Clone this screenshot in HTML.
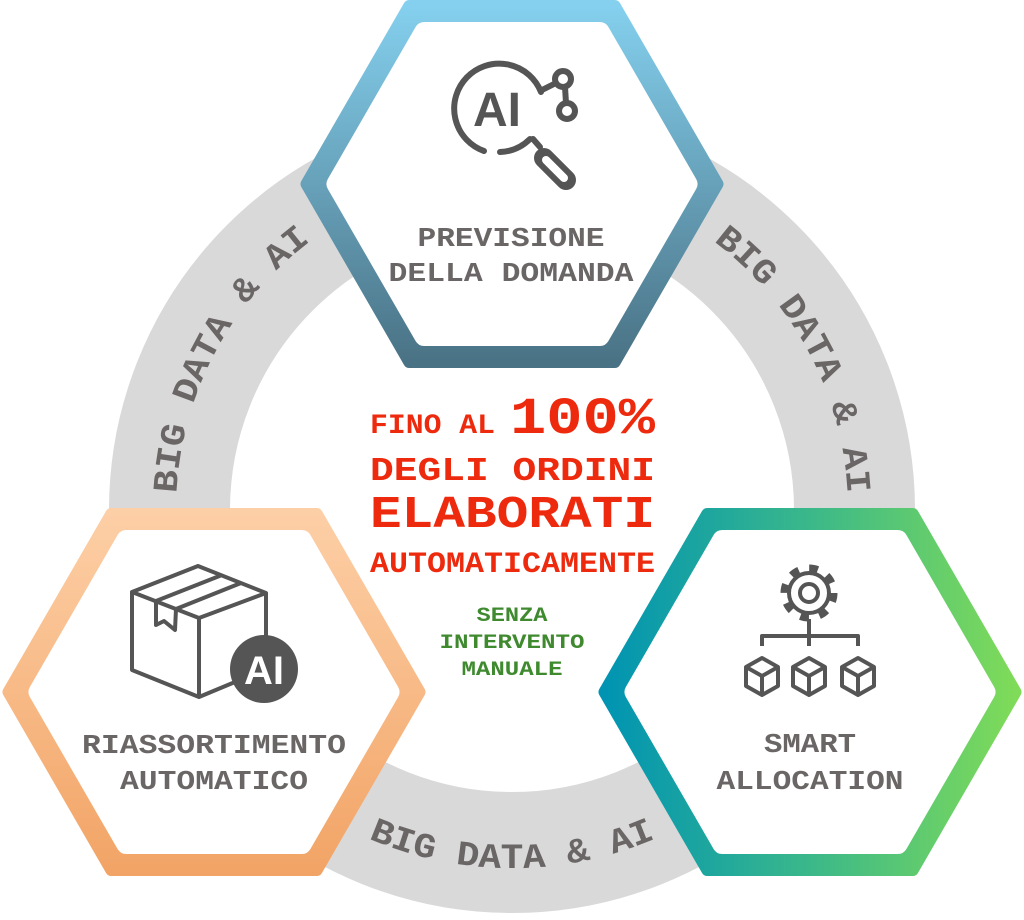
<!DOCTYPE html>
<html><head><meta charset="utf-8"><style>
html,body{margin:0;padding:0;background:#fff;}
svg{display:block;}
text{font-family:"Liberation Mono",monospace;font-weight:bold;}
</style></head><body>
<svg width="1024" height="920" viewBox="0 0 1024 920" xmlns="http://www.w3.org/2000/svg">
<defs>
<linearGradient id="gT" x1="0" y1="0" x2="0" y2="1"><stop offset="0" stop-color="#84d0ee"/><stop offset="1" stop-color="#4a7285"/></linearGradient>
<linearGradient id="gL" x1="0" y1="0" x2="0" y2="1"><stop offset="0" stop-color="#fdcfa6"/><stop offset="1" stop-color="#f2a466"/></linearGradient>
<linearGradient id="gR" x1="0" y1="0" x2="1" y2="0"><stop offset="0" stop-color="#0094b2"/><stop offset="0.5" stop-color="#3bb88a"/><stop offset="1" stop-color="#7fdb58"/></linearGradient>
<path id="aL" d="M227.1,688.1 A336,336 0 0 1 500.3,174.2"/>
<path id="aR" d="M523.7,174.2 A336,336 0 0 1 796.9,688.1"/>
<path id="aB" d="M200.2,690 A362,362 0 0 0 823.8,690"/>
</defs>
<circle cx="512" cy="510" r="342.5" fill="none" stroke="#d9d9d9" stroke-width="121"/>
<g fill="#6b6666" font-size="35">
<text><textPath href="#aL" startOffset="50%" text-anchor="middle" textLength="295" lengthAdjust="spacingAndGlyphs">BIG DATA &amp; AI</textPath></text>
<text><textPath href="#aR" startOffset="50%" text-anchor="middle" textLength="295" lengthAdjust="spacingAndGlyphs">BIG DATA &amp; AI</textPath></text>
<text><textPath href="#aB" startOffset="50%" text-anchor="middle" textLength="295" lengthAdjust="spacingAndGlyphs">BIG DATA &amp; AI</textPath></text>
</g>
<polygon points="717.5,184 614.75,6 409.25,6 306.5,184 409.25,362 614.75,362" fill="url(#gT)" stroke="url(#gT)" stroke-width="12" stroke-linejoin="round"/>
<polygon points="687.5,184 599.75,32 424.25,32 336.5,184 424.25,336 599.75,336" fill="#fff" stroke="#fff" stroke-width="20" stroke-linejoin="round"/>
<polygon points="419.5,692 316.75,514 111.25,514 8.5,692 111.25,870 316.75,870" fill="url(#gL)" stroke="url(#gL)" stroke-width="12" stroke-linejoin="round"/>
<polygon points="389.5,692 301.75,540 126.25,540 38.5,692 126.25,844 301.75,844" fill="#fff" stroke="#fff" stroke-width="20" stroke-linejoin="round"/>
<polygon points="1015.5,692 912.75,514 707.25,514 604.5,692 707.25,870 912.75,870" fill="url(#gR)" stroke="url(#gR)" stroke-width="12" stroke-linejoin="round"/>
<polygon points="985.5,692 897.75,540 722.25,540 634.5,692 722.25,844 897.75,844" fill="#fff" stroke="#fff" stroke-width="20" stroke-linejoin="round"/>

<g stroke="#555" fill="none" stroke-width="6" stroke-linecap="round">
<path d="M484,151 A45,45 0 1 1 541,92"/>
<path d="M500,152 A45,45 0 0 0 530,139"/>
<line x1="542" y1="90" x2="556" y2="83"/>
<circle cx="563" cy="79" r="8"/>
<line x1="565" y1="87" x2="566" y2="103"/>
<circle cx="567" cy="111" r="8"/>
<line x1="533" y1="139" x2="540" y2="147"/>
<line x1="544" y1="158" x2="566" y2="180" stroke-width="20"/>
<line x1="546" y1="160" x2="564" y2="178" stroke="#fff" stroke-width="8"/>
</g>
<text x="497" y="126" text-anchor="middle" font-size="48" fill="#555" style="font-family:'Liberation Sans',sans-serif">AI</text>

<g stroke="#555" fill="none" stroke-width="4" stroke-linejoin="round">
<polygon points="198,566 132,592 199,618 266,593"/>
<polyline points="132,592 132,670 199,697 235,682"/>
<line x1="199" y1="618" x2="199" y2="697"/>
<polyline points="266,593 266,640"/>
<line x1="156" y1="601" x2="222" y2="575"/>
<line x1="176" y1="609" x2="241" y2="583"/>
<polyline points="156,601 156,625 164,621 175,630 176,609"/>
</g>
<circle cx="264" cy="669" r="34" fill="#555"/>
<text x="264" y="684" text-anchor="middle" font-size="40" fill="#fff" style="font-family:'Liberation Sans',sans-serif">AI</text>

<g stroke="#555" fill="none" stroke-width="4" stroke-linejoin="round">
<circle cx="809" cy="593" r="24" stroke-width="9" stroke-dasharray="8.5 10.35"/>
<circle cx="809" cy="593" r="20" fill="#fff"/>
<circle cx="809" cy="593" r="9"/>
<line x1="809" y1="619" x2="809" y2="646"/>
<polyline points="762,646 762,636 858,636 858,646"/>
<g id="cube"><polygon points="762,658 778,667 778,686 762,695 746,686 746,667"/><polyline points="746,667 762,676 778,667"/><line x1="762" y1="676" x2="762" y2="695"/></g>
<use href="#cube" x="47"/>
<use href="#cube" x="96"/>
</g>

<g fill="#6b6666" font-size="27">
<text x="511" y="246" text-anchor="middle" textLength="187" lengthAdjust="spacingAndGlyphs">PREVISIONE</text>
<text x="511" y="281" text-anchor="middle" textLength="245" lengthAdjust="spacingAndGlyphs">DELLA DOMANDA</text>
<text x="214" y="753" text-anchor="middle" textLength="264" lengthAdjust="spacingAndGlyphs">RIASSORTIMENTO</text>
<text x="214" y="789" text-anchor="middle" textLength="188" lengthAdjust="spacingAndGlyphs">AUTOMATICO</text>
<text x="810" y="752" text-anchor="middle" textLength="92" lengthAdjust="spacingAndGlyphs">SMART</text>
<text x="810" y="789" text-anchor="middle" textLength="187" lengthAdjust="spacingAndGlyphs">ALLOCATION</text>
</g>

<g fill="#ee2a0e">
<text x="370" y="433" font-size="28" textLength="125" lengthAdjust="spacingAndGlyphs">FINO AL</text>
<text x="510" y="433" font-size="52" textLength="145" lengthAdjust="spacingAndGlyphs">100%</text>
<text x="370" y="480" font-size="33" textLength="285" lengthAdjust="spacingAndGlyphs">DEGLI ORDINI</text>
<text x="370" y="527" font-size="45" textLength="285" lengthAdjust="spacingAndGlyphs">ELABORATI</text>
<text x="370" y="572" font-size="30" textLength="285" lengthAdjust="spacingAndGlyphs">AUTOMATICAMENTE</text>
</g>
<g fill="#3f8a2f" font-size="20">
<text x="512" y="621" text-anchor="middle" textLength="71" lengthAdjust="spacingAndGlyphs">SENZA</text>
<text x="512" y="648" text-anchor="middle" textLength="145" lengthAdjust="spacingAndGlyphs">INTERVENTO</text>
<text x="512" y="675" text-anchor="middle" textLength="101" lengthAdjust="spacingAndGlyphs">MANUALE</text>
</g>
</svg>
</body></html>
